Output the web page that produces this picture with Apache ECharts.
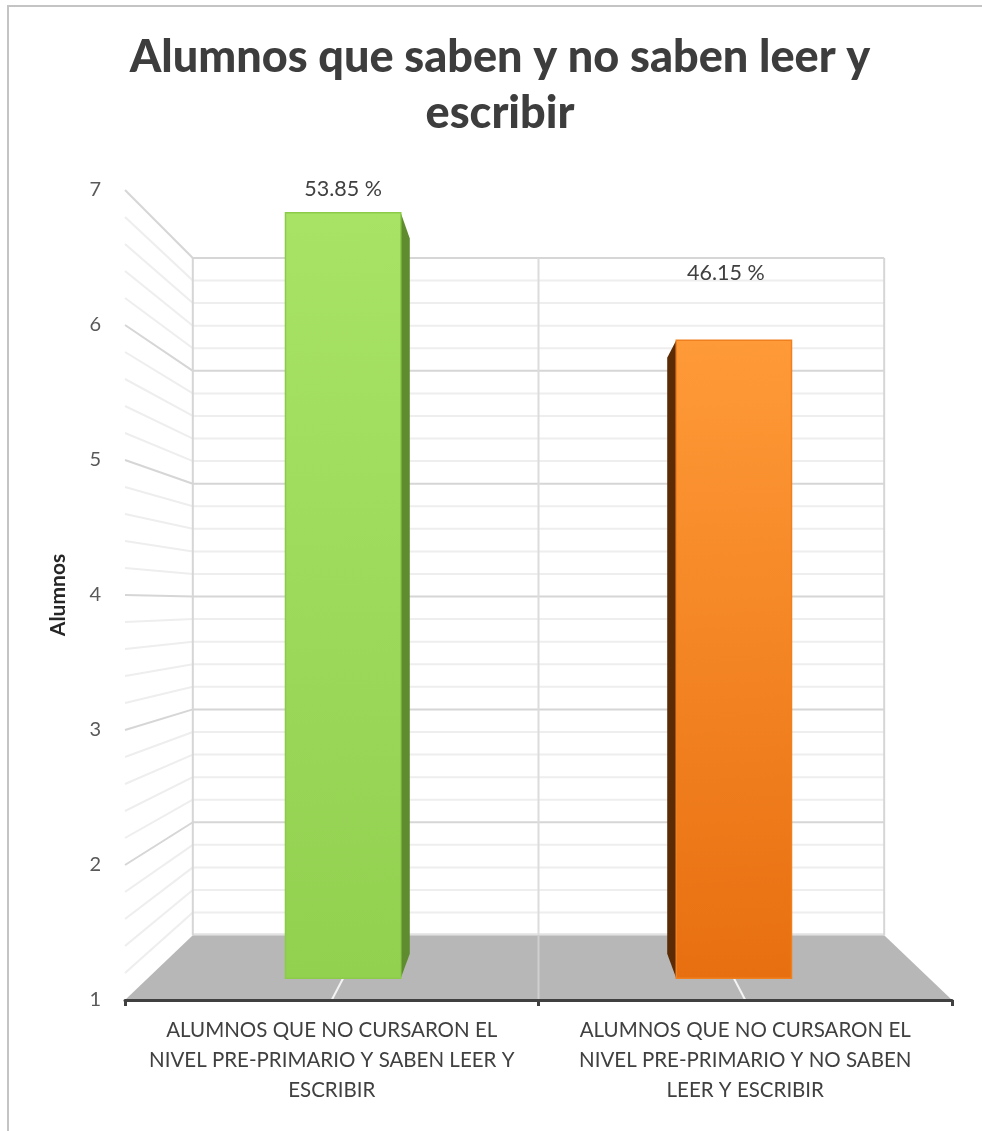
<!DOCTYPE html>
<html>
<head>
<meta charset="utf-8">
<script src="https://cdn.jsdelivr.net/npm/echarts@6/dist/echarts.min.js"></script>
<style>
  html, body { margin: 0; padding: 0; background: #ffffff; }
  #chart { width: 982px; height: 1131px; }
</style>
</head>
<body>
<div id="chart"></div>
<script>
// ---- data ----
const chartTitle = ['Alumnos que saben y no saben leer y', 'escribir'];
const axisTitle = 'Alumnos';
const categories = [
  'ALUMNOS QUE NO CURSARON EL\nNIVEL PRE-PRIMARIO Y SABEN LEER Y\nESCRIBIR',
  'ALUMNOS QUE NO CURSARON EL\nNIVEL PRE-PRIMARIO Y NO SABEN\nLEER Y ESCRIBIR'
];
const alumnos = [7, 6];
const yMin = 1;
const yMax = 7;
const yStep = 1;

// ---- look of the 3D scene ----
const FONT = 'Lato, "Open Sans", sans-serif';
const EYE_VALUE = 3.93;      // axis value at eye height (vanishing point)
const BACK_SCALE = 0.836;    // scale of the back wall relative to the front plane
const BAR_FRONT = 0.945;     // depth of the bars' front faces
const BAR_BACK = 0.883;      // depth of the bars' back faces
const BAR_WIDTH = 0.295;     // bar width as a share of the category band
const MINOR_STEP = 0.2;
const barColors = [
  { top: '#a8e366', bottom: '#92d050', side: '#5f8c2e', edge: '#8ccb4a' },
  { top: '#ff9a38', bottom: '#e86f10', side: '#5a2b04', edge: '#f0801e' }
];
const labelShift = [[0, -24], [-8, -67]];

const total = alumnos.reduce((a, b) => a + b, 0);

function frame(api) {
  const band = api.size([1, 0])[0];
  const x0 = api.coord([0, yMin])[0] - band / 2;
  const x1 = api.coord([categories.length - 1, yMin])[0] + band / 2;
  const vx = (x0 + x1) / 2;
  const vy = api.coord([0, EYE_VALUE])[1];
  const P = (x, y, s) => [vx + (x - vx) * s, vy + (y - vy) * s];
  const Y = v => api.coord([0, v])[1];
  return { band, x0, x1, vx, vy, P, Y };
}

function renderScene(params, api) {
  const { band, x0, x1, vx, P, Y } = frame(api);
  const kids = [];
  const yb = Y(yMin), yt = Y(yMax);

  // floor
  kids.push({
    type: 'polygon',
    shape: { points: [[x0, yb], [x1, yb], P(x1, yb, BACK_SCALE), P(x0, yb, BACK_SCALE)] },
    style: { fill: '#b7b7b7' }
  });

  // back wall and side wall grid
  const steps = Math.round((yMax - yMin) / MINOR_STEP);
  for (let k = steps; k >= 1; k--) {
    const v = yMin + k * MINOR_STEP;
    const major = k % Math.round(yStep / MINOR_STEP) === 0;
    const stroke = major ? '#d6d6d6' : '#eeeeee';
    const y = Y(v);
    const a = P(x0, y, BACK_SCALE), b = P(x1, y, BACK_SCALE);
    kids.push({ type: 'line', shape: { x1: a[0], y1: a[1], x2: b[0], y2: b[1] },
      style: { stroke, lineWidth: 2 } });
    kids.push({ type: 'line', shape: { x1: x0, y1: y, x2: a[0], y2: a[1] },
      style: { stroke, lineWidth: 2 } });
  }
  // line where floor meets the back wall
  const fl = P(x0, yb, BACK_SCALE), fr = P(x1, yb, BACK_SCALE);
  kids.push({ type: 'line', shape: { x1: fl[0], y1: fl[1] - 1, x2: fr[0], y2: fr[1] - 1 },
    style: { stroke: '#e2e2e2', lineWidth: 2 } });

  // vertical edges of the back wall
  const tl = P(x0, yt, BACK_SCALE), tr = P(x1, yt, BACK_SCALE);
  kids.push({ type: 'line', shape: { x1: tl[0], y1: tl[1], x2: fl[0], y2: fl[1] },
    style: { stroke: '#d6d6d6', lineWidth: 2 } });
  kids.push({ type: 'line', shape: { x1: tr[0], y1: tr[1], x2: fr[0], y2: fr[1] },
    style: { stroke: '#d6d6d6', lineWidth: 2 } });

  // category boundaries on the back wall and across the floor
  for (let c = 1; c < categories.length; c++) {
    const bx = x0 + c * band;
    const top = P(bx, yt, BACK_SCALE), mid = P(bx, yb, BACK_SCALE);
    kids.push({ type: 'line', shape: { x1: top[0], y1: top[1], x2: mid[0], y2: mid[1] },
      style: { stroke: '#dcdcdc', lineWidth: 2 } });
    kids.push({ type: 'line', shape: { x1: mid[0], y1: mid[1], x2: bx, y2: yb },
      style: { stroke: '#cfcfcf', lineWidth: 2 } });
  }

  // category centre lines on the floor
  for (let c = 0; c < categories.length; c++) {
    const cx = api.coord([c, yMin])[0];
    const e = P(cx, yb, BAR_FRONT);
    kids.push({ type: 'line', shape: { x1: cx, y1: yb, x2: e[0], y2: e[1] },
      style: { stroke: '#f4f4f4', lineWidth: 2 } });
  }
  return { type: 'group', children: kids };
}

function renderBar(params, api) {
  const { band, vx, P, Y } = frame(api);
  const i = api.value(0), v = api.value(1);
  const col = barColors[i];
  const pt = api.coord([i, v]);
  const cx = pt[0];
  const hw = band * BAR_WIDTH / 2;
  const yTop = pt[1], yBase = Y(yMin);
  const a = P(cx - hw, yTop, BAR_FRONT), b = P(cx + hw, yBase, BAR_FRONT);
  const sx = cx < vx ? cx + hw : cx - hw;
  const side = [P(sx, yTop, BAR_FRONT), P(sx, yTop, BAR_BACK), P(sx, yBase, BAR_BACK), P(sx, yBase, BAR_FRONT)];
  const shift = labelShift[i];
  const pct = (v / total * 100).toFixed(2) + ' %';
  return {
    type: 'group',
    children: [
      { type: 'polygon', shape: { points: side },
        style: { fill: col.side } },
      { type: 'rect', shape: { x: a[0], y: a[1], width: b[0] - a[0], height: b[1] - a[1] },
        style: {
          fill: new echarts.graphic.LinearGradient(0, 0, 0.15, 1, [
            { offset: 0, color: col.top }, { offset: 1, color: col.bottom }
          ]),
          stroke: col.edge, lineWidth: 1.5
        } },
      { type: 'text',
        x: (a[0] + b[0]) / 2 + shift[0], y: a[1] + shift[1],
        style: { text: pct, fill: '#404040', font: '21.5px ' + FONT, align: 'center', verticalAlign: 'middle' } }
    ]
  };
}

const chart = echarts.init(document.getElementById('chart'), null, { renderer: 'canvas' });
chart.setOption({
  animation: false,
  backgroundColor: '#ffffff',
  graphic: [
    { type: 'rect', shape: { x: 8, y: 6, width: 1100, height: 1200 },
      style: { fill: 'none', stroke: '#c4c4c4', lineWidth: 2 }, silent: true, z: 0 },
    { type: 'text', x: 500, y: 57,
      style: { text: chartTitle[0], fill: '#3d3d3d', font: '900 45px ' + FONT, align: 'center', verticalAlign: 'middle' } },
    { type: 'text', x: 500, y: 113,
      style: { text: chartTitle[1], fill: '#3d3d3d', font: '900 45px ' + FONT, align: 'center', verticalAlign: 'middle' } }
  ],
  grid: { left: 125, right: 30, top: 190, bottom: 131 },
  xAxis: {
    type: 'category',
    data: categories,
    z: 5,
    axisLine: { show: true, lineStyle: { color: '#404040', width: 3 } },
    axisTick: { show: true, length: 6, interval: 0, lineStyle: { color: '#404040', width: 3 } },
    axisLabel: { interval: 0, color: '#404040', fontSize: 20.5, fontFamily: FONT, lineHeight: 30, margin: 15 },
    splitLine: { show: false }
  },
  yAxis: {
    type: 'value',
    min: yMin, max: yMax, interval: yStep,
    name: axisTitle,
    nameLocation: 'middle',
    nameRotate: 90,
    nameGap: 56,
    nameTextStyle: { color: '#262626', fontSize: 21, fontWeight: 'bold', fontFamily: FONT },
    axisLine: { show: false },
    axisTick: { show: false },
    splitLine: { show: false },
    axisLabel: { color: '#595959', fontSize: 20, fontFamily: FONT, margin: 24 }
  },
  series: [
    { type: 'custom', coordinateSystem: 'cartesian2d', renderItem: renderScene,
      data: [[0, yMin]], silent: true, clip: false, z: 1 },
    { type: 'custom', coordinateSystem: 'cartesian2d', renderItem: renderBar,
      data: alumnos.map((v, i) => [i, v]), clip: false, z: 3 }
  ]
});
</script>
</body>
</html>
